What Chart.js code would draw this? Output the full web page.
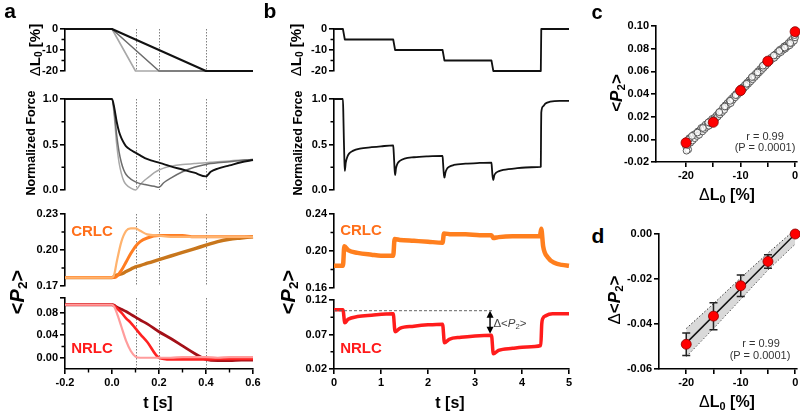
<!DOCTYPE html>
<html><head><meta charset="utf-8">
<script src="https://cdn.jsdelivr.net/npm/chart.js@4.4.1/dist/chart.umd.min.js"></script>
<style>
html,body{margin:0;padding:0;background:#fff;}
#wrap{position:relative;width:800px;height:413px;overflow:hidden;font-family:"Liberation Sans",Arial,Helvetica,sans-serif;color:#000;}
#wrap canvas{position:absolute;}
.t{position:absolute;white-space:nowrap;line-height:1;transform-origin:center center;}
.t sub{font-size:0.68em;vertical-align:-0.28em;line-height:0;}
.n{font-weight:normal;}
</style></head><body><div id="wrap"></div>
<script>
// ---------------- DATA ----------------
// Panel a: length steps (% of L0) for three ramp durations
const aLenT1 = [-0.2, 0, 0.1, 0.6];  const aLenV1 = [0, 0, -20, -20];
const aLenT2 = [-0.2, 0, 0.2, 0.6];  const aLenV2 = [0, 0, -20, -20];
const aLenT3 = [-0.2, 0, 0.4, 0.6];  const aLenV3 = [0, 0, -20, -20];
// Panel a: normalized force
const aForceT = [-0.2, 0, 0.01, 0.02, 0.03, 0.04, 0.05, 0.06, 0.08, 0.1, 0.12, 0.14, 0.16, 0.18, 0.2, 0.22, 0.25, 0.3, 0.35, 0.4, 0.42, 0.45, 0.5, 0.55, 0.6];
const aForce1 = [1, 1, 0.8, 0.5, 0.3, 0.18, 0.1, 0.06, 0.02, 0.0, 0.06, 0.11, 0.15, 0.19, 0.22, 0.24, 0.26, 0.28, 0.29, 0.30, 0.305, 0.31, 0.32, 0.33, 0.335];
const aForce2 = [1, 1, 0.85, 0.6, 0.42, 0.3, 0.22, 0.17, 0.12, 0.09, 0.07, 0.06, 0.05, 0.04, 0.03, 0.08, 0.13, 0.2, 0.25, 0.28, 0.29, 0.3, 0.31, 0.325, 0.335];
const aForce3 = [1, 1, 0.9, 0.75, 0.64, 0.57, 0.52, 0.48, 0.44, 0.41, 0.38, 0.35, 0.33, 0.315, 0.30, 0.285, 0.26, 0.225, 0.19, 0.15, 0.2, 0.235, 0.27, 0.305, 0.33];
// Panel a: <P2> CRLC and NRLC
const aProbeT = [-0.2, -0.1, 0, 0.01, 0.02, 0.04, 0.06, 0.08, 0.1, 0.12, 0.15, 0.2, 0.25, 0.3, 0.35, 0.4, 0.45, 0.5, 0.55, 0.6];
const aCrlc1 = [0.177, 0.177, 0.177, 0.18, 0.19, 0.207, 0.216, 0.218, 0.218, 0.216, 0.213, 0.212, 0.211, 0.211, 0.211, 0.211, 0.211, 0.211, 0.211, 0.211];
const aCrlc2 = [0.177, 0.177, 0.177, 0.177, 0.178, 0.183, 0.19, 0.197, 0.203, 0.207, 0.21, 0.212, 0.212, 0.212, 0.211, 0.211, 0.211, 0.211, 0.211, 0.211];
const aCrlc3 = [0.177, 0.177, 0.177, 0.178, 0.179, 0.18, 0.182, 0.184, 0.186, 0.187, 0.189, 0.192, 0.195, 0.198, 0.201, 0.204, 0.207, 0.209, 0.21, 0.211];
const aNrlc1 = [0.094, 0.094, 0.094, 0.09, 0.08, 0.055, 0.03, 0.012, 0.002, 0.0, 0.0, 0.0, 0.0, 0.001, 0.001, 0.001, 0.0, 0.001, 0.001, 0.001];
const aNrlc2 = [0.094, 0.094, 0.094, 0.092, 0.088, 0.08, 0.07, 0.062, 0.052, 0.042, 0.028, 0.0, -0.003, -0.003, -0.003, -0.003, -0.002, -0.002, -0.002, -0.002];
const aNrlc3 = [0.094, 0.094, 0.094, 0.093, 0.09, 0.086, 0.082, 0.077, 0.072, 0.067, 0.06, 0.046, 0.034, 0.021, 0.008, -0.003, -0.005, -0.005, -0.004, -0.004];
const aMarkT = [0.1, 0.2, 0.4];

// Panel b: staircase release
const bLenT = [0, 0.19, 0.23, 1.26, 1.30, 2.31, 2.35, 3.35, 3.39, 4.40, 4.41, 5];
const bLenV = [0, 0, -5, -5, -10, -10, -15, -15, -20, -20, 0, 0];
const bForceT = [0, 0.19, 0.2, 0.21, 0.22, 0.23, 0.25, 0.28, 0.32, 0.4, 0.55, 0.8, 1.0, 1.26,
  1.27, 1.28, 1.29, 1.30, 1.32, 1.35, 1.4, 1.5, 1.7, 2.0, 2.31,
  2.32, 2.33, 2.34, 2.35, 2.37, 2.4, 2.45, 2.55, 2.8, 3.1, 3.35,
  3.36, 3.37, 3.38, 3.39, 3.41, 3.45, 3.5, 3.6, 3.9, 4.2, 4.40,
  4.405, 4.41, 4.45, 4.5, 4.6, 4.8, 5];
const bForceV = [1, 1, 0.8, 0.55, 0.35, 0.21, 0.3, 0.36, 0.4, 0.43, 0.455, 0.47, 0.48, 0.49,
  0.42, 0.32, 0.22, 0.165, 0.24, 0.29, 0.32, 0.345, 0.36, 0.37, 0.375,
  0.3, 0.22, 0.16, 0.135, 0.19, 0.23, 0.255, 0.275, 0.29, 0.297, 0.30,
  0.24, 0.17, 0.13, 0.11, 0.16, 0.19, 0.205, 0.22, 0.24, 0.25, 0.255,
  0.6, 0.85, 0.92, 0.95, 0.97, 0.98, 0.98];
const bCrlcT = [0, 0.19, 0.22, 0.3, 0.5, 0.8, 1.0, 1.26, 1.29, 1.4, 1.7, 2.0, 2.31, 2.34, 2.5, 2.8, 3.1, 3.35, 3.39, 3.5, 3.8, 4.1, 4.38, 4.41, 4.45, 4.55, 4.7, 4.85, 5];
const bCrlcV = [0.184, 0.184, 0.205, 0.201, 0.198, 0.196, 0.195, 0.195, 0.213, 0.212, 0.211, 0.21, 0.209, 0.219, 0.218, 0.218, 0.217, 0.217, 0.214, 0.215, 0.216, 0.216, 0.216, 0.224, 0.205, 0.193, 0.187, 0.185, 0.184];
const bNrlcT = [0, 0.19, 0.23, 0.3, 0.5, 0.8, 1.26, 1.30, 1.4, 1.7, 2.0, 2.31, 2.35, 2.45, 2.7, 3.0, 3.35, 3.39, 3.5, 3.8, 4.1, 4.40, 4.42, 4.45, 4.5, 4.65, 5];
const bNrlcV = [0.106, 0.106, 0.087, 0.092, 0.096, 0.098, 0.1, 0.074, 0.079, 0.082, 0.084, 0.085, 0.058, 0.063, 0.066, 0.068, 0.069, 0.042, 0.047, 0.05, 0.052, 0.054, 0.085, 0.094, 0.097, 0.1, 0.1];
const bRefLevel = 0.1045, bRefT = [0, 3.37], bArrowT = 3.32, bArrowLow = 0.0712;

// Panel c: <P2> vs ΔL0 (open: continuous ramp, red: steps)
const cOpenX = [-20,-19.8,-19.6,-19.4,-19.2,-19,-18.8,-18.6,-18.4,-18.2,-18,-17.8,-17.6,-17.4,-17.2,-17,-16.8,-16.6,-16.4,-16.2,-16,-15.8,-15.6,-15.4,-15.2,-15,-14.8,-14.6,-14.4,-14.2,-14,-13.8,-13.6,-13.4,-13.2,-13,-12.8,-12.6,-12.4,-12.2,-12,-11.8,-11.6,-11.4,-11.2,-11,-10.8,-10.6,-10.4,-10.2,-10,-9.8,-9.6,-9.4,-9.2,-9,-8.8,-8.6,-8.4,-8.2,-8,-7.8,-7.6,-7.4,-7.2,-7,-6.8,-6.6,-6.4,-6.2,-6,-5.8,-5.6,-5.4,-5.2,-5,-4.8,-4.6,-4.4,-4.2,-4,-3.8,-3.6,-3.4,-3.2,-3,-2.8,-2.6,-2.4,-2.2,-2,-1.8,-1.6,-1.4,-1.2,-1,-0.8,-0.6,-0.4,-0.2,0];
const cOpenY = [-0.006,-0.002,-0.009,0.001,-0.003,0.002,-0.001,0.004,0.001,0.005,
  0.003,0.007,0.004,0.008,0.010,0.007,0.011,0.009,0.013,0.011,
  0.014,0.012,0.016,0.014,0.018,0.015,0.019,0.018,0.021,0.020,
  0.023,0.022,0.025,0.024,0.028,0.026,0.030,0.029,0.032,0.031,
  0.034,0.032,0.036,0.035,0.038,0.037,0.040,0.039,0.042,0.041,
  0.044,0.043,0.046,0.045,0.048,0.047,0.050,0.049,0.052,0.051,
  0.054,0.053,0.056,0.055,0.058,0.057,0.060,0.059,0.062,0.061,
  0.064,0.063,0.066,0.065,0.068,0.067,0.070,0.069,0.072,0.071,
  0.073,0.072,0.075,0.074,0.077,0.076,0.079,0.077,0.080,0.079,
  0.082,0.080,0.083,0.082,0.085,0.083,0.087,0.085,0.089,0.087,0.090];
const cOpenX2 = [-19.9,-19.7,-19.5,-18.9,-17.9,-16.9,-15.9,-14.9,-13.9,-12.9,-11.9,-10.9,-9.9,-8.9,-7.9,-6.9,-5.9,-4.9,-3.9,-2.9,-1.9,-0.9,-0.1];
const cOpenY2 = [-0.010,-0.005,0.000,0.003,0.006,0.010,0.015,0.017,0.024,0.029,0.034,0.039,0.045,0.049,0.055,0.059,0.065,0.069,0.074,0.078,0.081,0.085,0.092];
const cStepX = [-20, -15, -10, -5, 0];
const cStepY = [-0.003, 0.015, 0.043, 0.069, 0.095];

// Panel d: Δ<P2> vs ΔL0
const dX = [-20, -15, -10, -5, 0];
const dMean = [-0.049, -0.0365, -0.023, -0.0122, 0];
const dErr = [0.005, 0.006, 0.0048, 0.003, 0];
const dFitX = [-20, 0];
const dFitY = [-0.0485, 0.0];
const dBandX = [-20, -15, -10, -5, 0];
const dBandHi = [-0.042, -0.031, -0.0195, -0.0085, 0.002];
const dBandLo = [-0.0545, -0.042, -0.029, -0.016, -0.0045];

// Tick values and labels
const lenTicks = [0, -10, -20], lenLabels = ['0', '-10', '-20'], lenMinor = [-5, -15];
const forceTicks = [0, 0.5, 1], forceLabels = ['0.0', '0.5', '1.0'], forceMinor = [0.25, 0.75];
const aCrlcTicks = [0.17, 0.2, 0.23], aCrlcLabels = ['0.17', '0.20', '0.23'], aCrlcMinor = [0.185, 0.215];
const aNrlcTicks = [0, 0.04, 0.08, 0.106], aNrlcLabels = ['0.00', '0.04', '0.08', ''], aNrlcMinor = [0.02, 0.06];
const aTimeTicks = [-0.2, 0, 0.2, 0.4, 0.6], aTimeLabels = ['-0.2', '0.0', '0.2', '0.4', '0.6'], aTimeMinor = [-0.1, 0.1, 0.3, 0.5];
const bCrlcTicks = [0.16, 0.2, 0.24], bCrlcLabels = ['0.16', '0.20', '0.24'], bCrlcMinor = [0.18, 0.22];
const bNrlcTicks = [0.02, 0.07, 0.12], bNrlcLabels = ['0.02', '0.07', '0.12'], bNrlcMinor = [0.045, 0.095];
const bTimeTicks = [0, 1, 2, 3, 4, 5], bTimeLabels = ['0', '1', '2', '3', '4', '5'];
const cYTicks = [-0.02, 0, 0.02, 0.04, 0.06, 0.08, 0.1], cYLabels = ['-0.02', '0.00', '0.02', '0.04', '0.06', '0.08', '0.10'];
const dLXTicks = [-20, -15, -10, -5, 0], dLXLabels = ['-20', '', '-10', '', '0'];
const dYTicks = [-0.06, -0.04, -0.02, 0], dYLabels = ['-0.06', '-0.04', '-0.02', '0.00'];

// ---------------- RENDER ----------------
const wrap = document.getElementById('wrap');
const FONT = '"Liberation Sans", Arial, Helvetica, sans-serif';
const TICKFONT = {family: FONT, size: 11, weight: 'bold'};
function pts(xs, ys) { return xs.map((x, i) => ({x: x, y: ys[i]})); }
function line(xs, ys, color, width, extra) {
  return Object.assign({data: pts(xs, ys), borderColor: color, backgroundColor: color, borderWidth: width,
    pointRadius: 0, fill: false, tension: 0, clip: false, showLine: true, borderJoinStyle: 'round'}, extra || {});
}
function mkScale(isX, s, show) {
  return {
    type: 'linear', display: show, min: s.min, max: s.max, position: isX ? 'bottom' : 'left',
    border: {display: true, color: '#000', width: 1.6},
    grid: {display: true, drawOnChartArea: false, drawTicks: true, tickLength: 5, color: '#000', lineWidth: 1.6},
    ticks: {autoSkip: false, maxRotation: 0, minRotation: 0, padding: 2, color: '#000', font: TICKFONT,
      callback: (v, i) => (s.labels[i] !== undefined ? s.labels[i] : '')},
    afterBuildTicks: sc => { sc.ticks = s.ticks.map(v => ({value: v})); },
    afterFit: sc => {
      if (show) { if (isX) sc.height = 22; else sc.width = 48; }
      sc.paddingTop = 0; sc.paddingBottom = 0; sc.paddingLeft = 0; sc.paddingRight = 0; }
  };
}
function minorPlugin(mx, my) {
  return {id: 'minor', afterDraw(chart) {
    const ctx = chart.ctx, a = chart.chartArea, xs = chart.scales.x, ys = chart.scales.y;
    ctx.save(); ctx.strokeStyle = '#000'; ctx.lineWidth = 1.4; ctx.beginPath();
    (my || []).forEach(v => { const p = ys.getPixelForValue(v); ctx.moveTo(a.left, p); ctx.lineTo(a.left - 3.5, p); });
    (mx || []).forEach(v => { const p = xs.getPixelForValue(v); ctx.moveTo(p, a.bottom); ctx.lineTo(p, a.bottom + 3.5); });
    ctx.stroke(); ctx.restore();
  }};
}
function vlinePlugin(vals) {
  return {id: 'vlines', beforeDatasetsDraw(chart) {
    const ctx = chart.ctx, a = chart.chartArea, xs = chart.scales.x;
    ctx.save(); ctx.strokeStyle = '#808080'; ctx.lineWidth = 1; ctx.setLineDash([1.5, 1.5]);
    vals.forEach(v => { const p = Math.round(xs.getPixelForValue(v)) + 0.5;
      ctx.beginPath(); ctx.moveTo(p, a.top); ctx.lineTo(p, a.bottom); ctx.stroke(); });
    ctx.restore();
  }};
}
function makeChart(o) {
  const PL = 52, PT = 9, PR = 9, PB = 9, YW = 48, XH = 22;
  const cv = document.createElement('canvas');
  const w = PL + o.w + PR, h = PT + o.h + (o.xShow ? XH : 0) + PB;
  cv.width = w; cv.height = h; cv.style.width = w + 'px'; cv.style.height = h + 'px';
  cv.style.left = (o.l - PL) + 'px'; cv.style.top = (o.t - PT) + 'px';
  wrap.appendChild(cv);
  const plugins = [minorPlugin(o.xShow ? o.minorX : [], o.minorY)];
  if (o.vlines) plugins.push(vlinePlugin(o.vlines));
  (o.plugins || []).forEach(p => plugins.push(p));
  return new Chart(cv, {
    type: 'line',
    data: {datasets: o.datasets},
    options: {
      responsive: false, maintainAspectRatio: false, animation: false, devicePixelRatio: 1, events: [],
      layout: {padding: {left: PL - YW, top: PT, right: PR, bottom: PB}},
      scales: {x: mkScale(true, o.x, !!o.xShow), y: mkScale(false, o.y, true)},
      plugins: {legend: {display: false}, tooltip: {enabled: false}}
    },
    plugins: plugins
  });
}

const GL = '#a8a8a8', GM = '#6c6c6c', GK = '#111111';
const O1 = '#ffb36e', O2 = '#ff7d22', O3 = '#c8761c', OB = '#ff7f1e';
const R1 = '#ff9c9c', R2 = '#ff2222', R3 = '#a31018', RB = '#ff1c1c';

// ---- Panel a ----
const aX = {min: -0.2, max: 0.6, ticks: aTimeTicks, labels: aTimeLabels};
makeChart({l: 65, t: 29, w: 188, h: 42, x: aX, y: {min: -20, max: 0, ticks: lenTicks, labels: lenLabels}, minorY: lenMinor, vlines: aMarkT,
  datasets: [line(aLenT3, aLenV3, GK, 2), line(aLenT2, aLenV2, GM, 1.6), line(aLenT1, aLenV1, GL, 1.6)]});
makeChart({l: 65, t: 99, w: 188, h: 91, x: aX, y: {min: 0, max: 1, ticks: forceTicks, labels: forceLabels}, minorY: forceMinor, vlines: aMarkT,
  datasets: [line(aForceT, aForce3, GK, 1.9, {cubicInterpolationMode: 'monotone'}),
             line(aForceT, aForce2, GM, 1.5, {cubicInterpolationMode: 'monotone'}),
             line(aForceT, aForce1, GL, 1.5, {cubicInterpolationMode: 'monotone'})]});
makeChart({l: 65, t: 214, w: 188, h: 72, x: aX, y: {min: 0.17, max: 0.23, ticks: aCrlcTicks, labels: aCrlcLabels}, minorY: aCrlcMinor, vlines: aMarkT,
  datasets: [line(aProbeT, aCrlc1, O1, 2.2, {cubicInterpolationMode: 'monotone'}),
             line(aProbeT, aCrlc2, O2, 3, {cubicInterpolationMode: 'monotone'}),
             line(aProbeT, aCrlc3, O3, 3.4, {cubicInterpolationMode: 'monotone'})]});
makeChart({l: 65, t: 298, w: 188, h: 71, xShow: true, x: aX, minorX: aTimeMinor,
  y: {min: -0.02, max: 0.106, ticks: aNrlcTicks, labels: aNrlcLabels}, minorY: aNrlcMinor, vlines: aMarkT,
  datasets: [line(aProbeT, aNrlc1, R1, 2.2, {cubicInterpolationMode: 'monotone'}),
             line(aProbeT, aNrlc2, R2, 2.6, {cubicInterpolationMode: 'monotone'}),
             line(aProbeT, aNrlc3, R3, 2.8, {cubicInterpolationMode: 'monotone'})]});

// ---- Panel b ----
const bX = {min: 0, max: 5, ticks: bTimeTicks, labels: bTimeLabels};
makeChart({l: 334, t: 29, w: 235, h: 42, x: bX, y: {min: -20, max: 0, ticks: lenTicks, labels: lenLabels}, minorY: lenMinor,
  datasets: [line(bLenT, bLenV, GK, 1.8)]});
makeChart({l: 334, t: 99, w: 235, h: 91, x: bX, y: {min: 0, max: 1, ticks: forceTicks, labels: forceLabels}, minorY: forceMinor,
  datasets: [line(bForceT, bForceV, GK, 1.8, {cubicInterpolationMode: 'monotone'})]});
makeChart({l: 334, t: 214, w: 235, h: 74, x: bX, y: {min: 0.16, max: 0.24, ticks: bCrlcTicks, labels: bCrlcLabels}, minorY: bCrlcMinor,
  datasets: [line(bCrlcT, bCrlcV, OB, 4.5, {cubicInterpolationMode: 'monotone'})]});
const bAnnot = {id: 'bannot', afterDatasetsDraw(chart) {
  const ctx = chart.ctx, xs = chart.scales.x, ys = chart.scales.y;
  const yRef = ys.getPixelForValue(bRefLevel);
  ctx.save(); ctx.strokeStyle = '#666'; ctx.lineWidth = 1; ctx.setLineDash([3, 2]);
  ctx.beginPath(); ctx.moveTo(xs.getPixelForValue(bRefT[0]), yRef); ctx.lineTo(xs.getPixelForValue(bRefT[1]), yRef); ctx.stroke();
  ctx.setLineDash([]);
  const ax = xs.getPixelForValue(bArrowT), y2 = ys.getPixelForValue(bArrowLow);
  ctx.strokeStyle = '#000'; ctx.fillStyle = '#000'; ctx.lineWidth = 1.4;
  ctx.beginPath(); ctx.moveTo(ax, yRef + 5); ctx.lineTo(ax, y2 - 5); ctx.stroke();
  ctx.beginPath(); ctx.moveTo(ax, yRef); ctx.lineTo(ax - 3.5, yRef + 7); ctx.lineTo(ax + 3.5, yRef + 7); ctx.closePath(); ctx.fill();
  ctx.beginPath(); ctx.moveTo(ax, y2); ctx.lineTo(ax - 3.5, y2 - 7); ctx.lineTo(ax + 3.5, y2 - 7); ctx.closePath(); ctx.fill();
  ctx.restore();
}};
makeChart({l: 334, t: 300, w: 235, h: 69, xShow: true, x: bX, y: {min: 0.02, max: 0.12, ticks: bNrlcTicks, labels: bNrlcLabels}, minorY: bNrlcMinor,
  plugins: [bAnnot],
  datasets: [line(bNrlcT, bNrlcV, RB, 3.5, {cubicInterpolationMode: 'monotone'})]});

// ---- Panel c ----
makeChart({l: 656, t: 26, w: 141, h: 136, xShow: true,
  x: {min: -25.5, max: 0.35, ticks: dLXTicks, labels: dLXLabels},
  y: {min: -0.02, max: 0.1, ticks: cYTicks, labels: cYLabels},
  datasets: [
    {data: pts(cStepX, cStepY), showLine: false, pointRadius: 5, pointBackgroundColor: '#ff0000', pointBorderColor: '#8a0000', pointBorderWidth: 0.8, order: 0, clip: false},
    {data: pts(cOpenX.concat(cOpenX2), cOpenY.concat(cOpenY2)), showLine: false, pointRadius: 3.4, pointBackgroundColor: 'rgba(255,255,255,0.8)', pointBorderColor: '#4a4a4a', pointBorderWidth: 0.9, order: 1, clip: false}
  ]});

// ---- Panel d ----
const dErrPlugin = {id: 'derr', afterDatasetDraw(chart, args) {
  if (args.index !== 2) return;
  const ctx = chart.ctx, xs = chart.scales.x, ys = chart.scales.y;
  ctx.save(); ctx.strokeStyle = '#222'; ctx.lineWidth = 1.5; ctx.beginPath();
  dX.forEach((x, i) => { if (!dErr[i]) return;
    const px = xs.getPixelForValue(x), y1 = ys.getPixelForValue(dMean[i] + dErr[i]), y2 = ys.getPixelForValue(dMean[i] - dErr[i]);
    ctx.moveTo(px, y1); ctx.lineTo(px, y2);
    ctx.moveTo(px - 4, y1); ctx.lineTo(px + 4, y1); ctx.moveTo(px - 4, y2); ctx.lineTo(px + 4, y2); });
  ctx.stroke(); ctx.restore();
}};
makeChart({l: 659, t: 234, w: 138, h: 135, xShow: true,
  x: {min: -25, max: 0.33, ticks: dLXTicks, labels: dLXLabels},
  y: {min: -0.06, max: 0, ticks: dYTicks, labels: dYLabels},
  plugins: [dErrPlugin],
  datasets: [
    line(dBandX, dBandHi, '#333', 1, {borderDash: [1.5, 2], fill: '+1', backgroundColor: 'rgba(185,185,185,0.55)', order: 3}),
    line(dBandX, dBandLo, '#333', 1, {borderDash: [1.5, 2], order: 4}),
    line(dFitX, dFitY, '#111', 1.5, {order: 2}),
    {data: pts(dX, dMean), showLine: false, pointRadius: 5, pointBackgroundColor: '#ff0000', pointBorderColor: '#8a0000', pointBorderWidth: 0.8, order: 0, clip: false}
  ]});

// ---- Text ----
function txt(html, cx, cy, css, rot) {
  const d = document.createElement('div'); d.className = 't'; d.innerHTML = html;
  d.style.cssText += css; d.style.left = cx + 'px'; d.style.top = cy + 'px';
  d.style.transform = 'translate(-50%,-50%)' + (rot ? ' rotate(-90deg)' : '');
  wrap.appendChild(d);
}
const LEN = '<span class="n">&Delta;</span>L<sub>0</sub> [%]';
const P2 = '&lt;<i>P</i><sub>2</sub>&gt;';
txt('a', 10, 11, 'font:bold 21px ' + FONT);
txt('b', 270, 11, 'font:bold 21px ' + FONT);
txt('c', 597, 12, 'font:bold 20px ' + FONT);
txt('d', 598, 236, 'font:bold 21px ' + FONT);
txt(LEN, 34, 50, 'font:bold 15px ' + FONT, true);
txt('Normalized Force', 31, 143, 'font:bold 12.5px ' + FONT, true);
txt(P2, 17, 292, 'font:bold 20px ' + FONT, true);
txt(LEN, 295, 50, 'font:bold 15px ' + FONT, true);
txt('Normalized Force', 298, 143, 'font:bold 12.5px ' + FONT, true);
txt(P2, 288, 292, 'font:bold 20px ' + FONT, true);
txt('t [s]', 158, 403, 'font:bold 16px ' + FONT);
txt('t [s]', 450, 403, 'font:bold 16px ' + FONT);
txt('CRLC', 92, 230, 'font:bold 15px ' + FONT + ';color:#ff6f1a');
txt('NRLC', 92, 347, 'font:bold 15px ' + FONT + ';color:#ff1a1a');
txt('CRLC', 361, 229, 'font:bold 15px ' + FONT + ';color:#ff6f1a');
txt('NRLC', 361, 347, 'font:bold 15px ' + FONT + ';color:#ff1a1a');
txt('&Delta;&lt;<i>P</i><sub>2</sub>&gt;', 510, 323, 'font:11.5px ' + FONT + ';color:#444');
txt(P2, 617, 93, 'font:bold 17px ' + FONT, true);
txt(LEN, 727, 195, 'font:bold 16px ' + FONT);
txt('r = 0.99', 765, 136, 'font:11px ' + FONT + ';color:#333');
txt('(P = 0.0001)', 765, 147, 'font:11px ' + FONT + ';color:#333');
txt('<span class="n">&Delta;</span>' + P2, 615, 300, 'font:bold 17px ' + FONT, true);
txt(LEN, 727, 402, 'font:bold 16px ' + FONT);
txt('r = 0.99', 761, 343, 'font:11px ' + FONT + ';color:#333');
txt('(P = 0.0001)', 760, 355, 'font:11px ' + FONT + ';color:#333');
</script></body></html>
